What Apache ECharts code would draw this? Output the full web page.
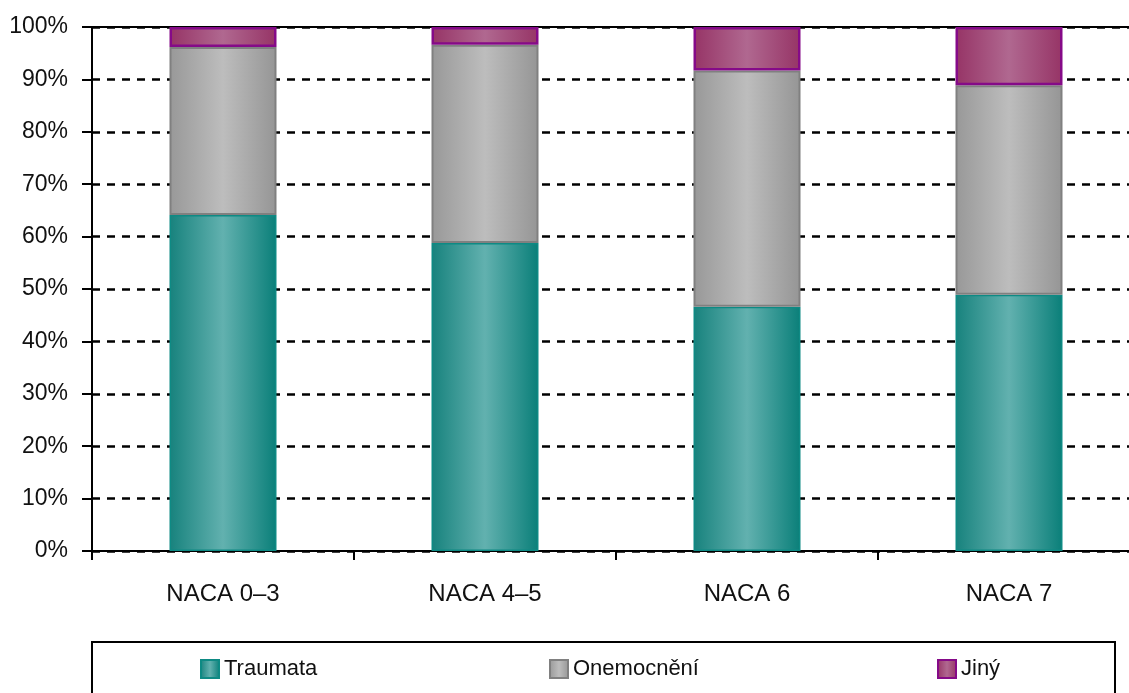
<!DOCTYPE html>
<html>
<head>
<meta charset="utf-8">
<script src="https://cdn.jsdelivr.net/npm/echarts@6/dist/echarts.min.js"></script>
<style>
html,body{margin:0;padding:0;background:#fff;}
#chart{width:1129px;height:693px;}
</style>
</head>
<body>
<div id="chart"></div>
<script>
const categories = ['NACA 0–3', 'NACA 4–5', 'NACA 6', 'NACA 7'];
const traumata = [64.1, 58.8, 46.6, 48.9];
const onemocneni = [32.1, 37.8, 45.1, 40.0];
const jiny = [3.8, 3.4, 8.3, 11.1];
const seriesNames = ['Traumata', 'Onemocnění', 'Jiný'];
const yTicks = [0, 10, 20, 30, 40, 50, 60, 70, 80, 90, 100];

const FONT = "'Liberation Sans', Arial, sans-serif";

function grad(edgeL, mid, edgeR) {
  return new echarts.graphic.LinearGradient(0, 0, 1, 0, [
    {offset: 0, color: edgeL}, {offset: 0.5, color: mid}, {offset: 1, color: edgeR}
  ]);
}

const styles = [
  {color: grad('#17827d', '#62b1af', '#0a7f79'), borderColor: '#0e8a84', borderWidth: 1.5},
  {color: grad('#989898', '#bdbdbd', '#959595'), borderColor: '#808080', borderWidth: 2},
  {color: grad('#963466', '#b06890', '#963466'), borderColor: '#850a88', borderWidth: 2.5}
];
const dataSets = [traumata, onemocneni, jiny];

const chart = echarts.init(document.getElementById('chart'), null, {renderer: 'canvas'});
chart.setOption({
  animation: false,
  backgroundColor: '#ffffff',
  grid: {left: 92, top: 27, width: 1048, height: 524, outerBoundsMode: 'none', containLabel: false},
  xAxis: [{
    type: 'category',
    data: categories,
    axisLine: {lineStyle: {color: '#000', width: 2}},
    axisTick: {show: true, length: 9, lineStyle: {color: '#000', width: 2}},
    axisLabel: {color: '#111', fontFamily: FONT, fontSize: 24, margin: 31}
  }, {
    type: 'category',
    position: 'top',
    data: categories,
    axisLine: {show: true, lineStyle: {color: '#000', width: 2}},
    axisTick: {show: false},
    axisLabel: {show: false}
  }],
  yAxis: {
    type: 'value',
    min: 0, max: 100, interval: 10,
    axisLine: {show: true, lineStyle: {color: '#000', width: 2}},
    axisTick: {show: true, length: 10, lineStyle: {color: '#000', width: 2}},
    axisLabel: {color: '#111', fontFamily: FONT, fontSize: 23, margin: 24,
      formatter: v => yTicks.includes(v) ? v + '%' : ''},
    splitLine: {show: true, lineStyle: {color: '#000', width: 2.5, type: [8, 7]}}
  },
  legend: seriesNames.map((n, i) => ({
    data: [n],
    left: [197, 546, 934][i],
    top: 655,
    icon: 'rect',
    itemWidth: 18, itemHeight: 18, itemGap: 0,
    padding: 3,
    textStyle: {color: '#111', fontFamily: FONT, fontSize: 22, padding: [0, 0, 0, 0]}
  })),
  graphic: [{
    type: 'rect',
    shape: {x: 92, y: 642, width: 1023, height: 70},
    style: {fill: 'none', stroke: '#000', lineWidth: 2},
    z: 0
  }],
  series: seriesNames.map((n, i) => ({
    name: n,
    type: 'bar',
    stack: 'total',
    barWidth: 107,
    data: dataSets[i],
    itemStyle: styles[i],
    emphasis: {disabled: true}
  }))
});
</script>
</body>
</html>
